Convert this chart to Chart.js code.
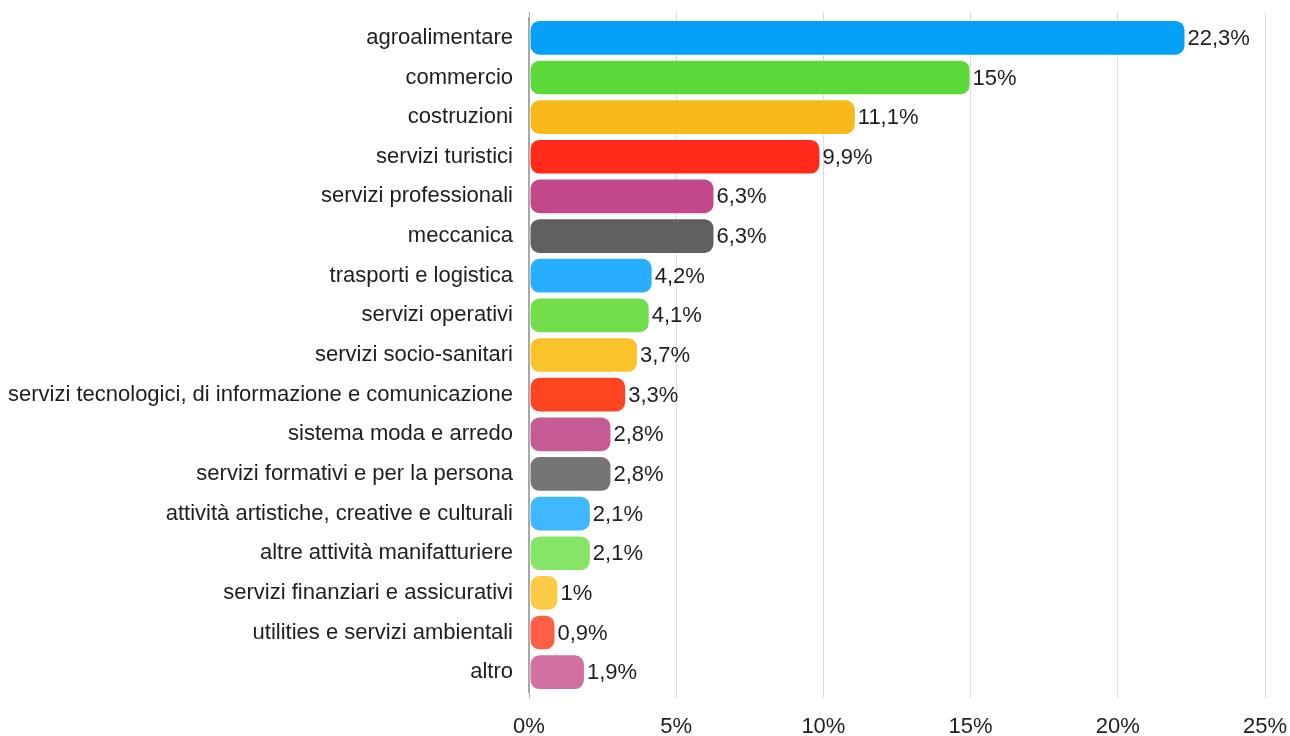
<!DOCTYPE html>
<html>
<head>
<meta charset="utf-8">
<script src="https://cdn.jsdelivr.net/npm/chart.js@4"></script>
<style>
  html, body { margin: 0; padding: 0; background: #fff; }
  #wrap { width: 1290px; height: 736px; }
</style>
</head>
<body>
<div id="wrap"><canvas id="sectors" width="1290" height="736"></canvas></div>
<script>
// Sector shares (%)
const sectors = [
  "agroalimentare", "commercio", "costruzioni", "servizi turistici",
  "servizi professionali", "meccanica", "trasporti e logistica",
  "servizi operativi", "servizi socio-sanitari",
  "servizi tecnologici, di informazione e comunicazione",
  "sistema moda e arredo", "servizi formativi e per la persona",
  "attività artistiche, creative e culturali", "altre attività manifatturiere",
  "servizi finanziari e assicurativi", "utilities e servizi ambientali", "altro"
];
const shares = [22.3, 15, 11.1, 9.9, 6.3, 6.3, 4.2, 4.1, 3.7, 3.3, 2.8, 2.8, 2.1, 2.1, 1, 0.9, 1.9];
const barColors = [
  "#05a0f8", "#5dd93a", "#f8b81a", "#ff2a1a", "#c2488a", "#606060",
  "#27aeff", "#72de4c", "#fbc22a", "#ff4422", "#c75b96", "#757575",
  "#40b8ff", "#86e466", "#fccb45", "#ff5f45", "#d270a2"
];
const xTicks = [0, 5, 10, 15, 20, 25];

const FONT = "'Liberation Sans', Arial, sans-serif";

// value labels after each bar, italian decimal comma
const fmt = v => String(v).replace(".", ",") + "%";

const valueLabels = {
  id: "valueLabels",
  afterDatasetsDraw(chart) {
    const ctx = chart.ctx;
    const meta = chart.getDatasetMeta(0);
    ctx.save();
    ctx.font = "22px " + FONT;
    ctx.fillStyle = "#1e1e1e";
    ctx.textAlign = "left";
    ctx.textBaseline = "middle";
    meta.data.forEach((bar, i) => {
      ctx.fillText(fmt(shares[i]), bar.x + 2, bar.y + 1);
    });
    ctx.restore();
  }
};

const gridColor = ctx => (ctx.tick && ctx.tick.value === 0 ? "#a8a8a8" : "#dcdcdc");

// fixed axis sizes, no extra inner padding from tick labels
const fixX = h => s => { s.height = h; s.paddingLeft = 0; s.paddingRight = 0; };

new Chart(document.getElementById("sectors"), {
  type: "bar",
  data: {
    labels: sectors,
    datasets: [{
      data: shares,
      backgroundColor: barColors,
      borderColor: "rgba(255,255,255,0.5)",
      borderWidth: 1,
      borderRadius: 10,
      borderSkipped: false,
      barPercentage: 0.9,
      categoryPercentage: 1
    }]
  },
  options: {
    indexAxis: "y",
    responsive: false,
    animation: false,
    layout: { autoPadding: false, padding: { top: 0, right: 25, bottom: 0, left: 0 } },
    plugins: { legend: { display: false }, tooltip: { enabled: false } },
    scales: {
      x: {
        position: "bottom",
        min: 0,
        max: 25,
        afterBuildTicks: s => { s.ticks = xTicks.map(v => ({ value: v })); },
        afterFit: fixX(44),
        grid: { color: gridColor, lineWidth: 1, tickLength: 6 },
        border: { display: false },
        ticks: {
          padding: 16,
          color: "#1e1e1e",
          font: { family: FONT, size: 22 },
          callback: v => v + "%"
        }
      },
      // short tick stubs above the plot
      xTop: {
        position: "top",
        min: 0,
        max: 25,
        afterBuildTicks: s => { s.ticks = xTicks.map(v => ({ value: v })); },
        afterFit: fixX(18),
        grid: { drawOnChartArea: false, color: gridColor, tickLength: 6 },
        border: { display: false },
        ticks: { display: false }
      },
      y: {
        afterFit: s => { s.width = 529; s.paddingTop = 0; s.paddingBottom = 0; },
        grid: { display: false, drawTicks: false },
        border: { display: true, color: "#a8a8a8", width: 1.5 },
        ticks: {
          padding: 16,
          color: "#1e1e1e",
          font: { family: FONT, size: 22 }
        }
      }
    }
  },
  plugins: [valueLabels]
});
</script>
</body>
</html>
